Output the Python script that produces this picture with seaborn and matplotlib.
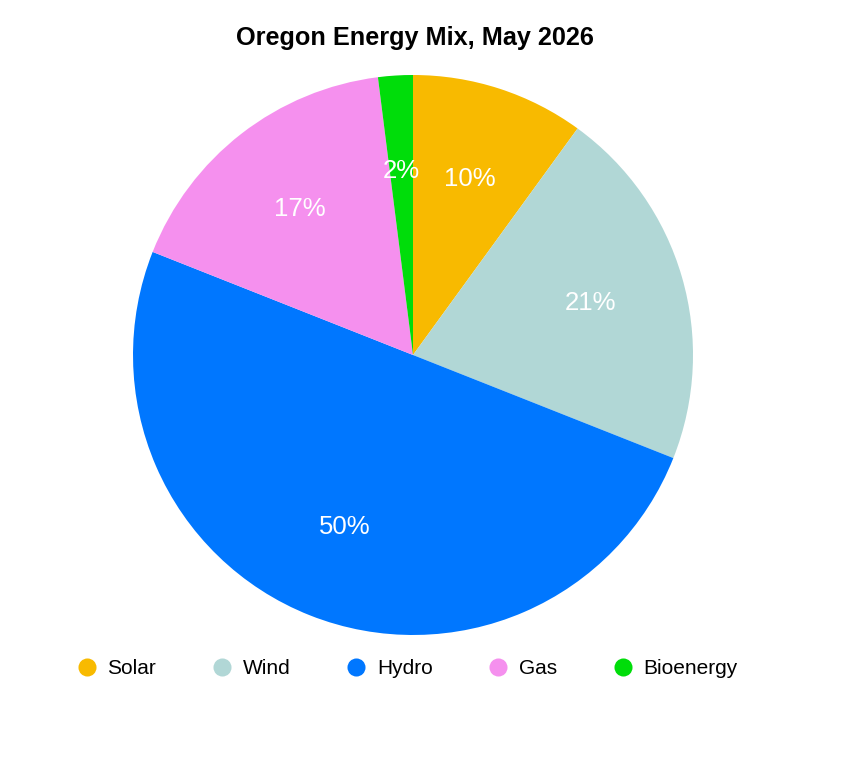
import matplotlib
matplotlib.use("Agg")
import matplotlib.pyplot as plt
from matplotlib.lines import Line2D
import seaborn as sns

# --- DATA ---
SOURCES = ["Solar", "Wind", "Hydro", "Gas", "Bioenergy"]
SHARES = [10, 21, 50, 17, 2]
COLORS = ["#F8BA00", "#B1D7D6", "#0077FF", "#F590EE", "#00DD0A"]
TITLE = "Oregon Energy Mix, May 2026"

sns.set_theme(style="white")
plt.rcParams['font.family'] = ['Liberation Sans', 'DejaVu Sans']

fig = plt.figure(figsize=(8.44, 7.66), dpi=100)
fig.patch.set_facecolor("white")

# pie centred at (413, 355) px, radius 280 px
W, H = 844, 766
cx, cy, r = 413, 355, 280
ax = fig.add_axes([(cx - r) / W, (H - cy - r) / H, 2 * r / W, 2 * r / H])

wedges, texts, autotexts = ax.pie(
    SHARES, colors=COLORS, startangle=90, counterclock=False,
    autopct='%.0f%%', pctdistance=0.66, radius=1.0,
    wedgeprops=dict(linewidth=0),
    textprops=dict(color="white", fontsize=18.5))
ax.set_xlim(-1, 1)
ax.set_ylim(-1, 1)
ax.set_aspect("equal")
ax.axis("off")

fig.text(415 / W, 1 - 38 / H, TITLE, ha="center", va="center",
         fontsize=18.2, fontweight="bold", color="black")

handles = [Line2D([0], [0], marker="o", linestyle="", markersize=13,
                  markerfacecolor=c, markeredgewidth=0) for c in COLORS]
leg = fig.legend(handles, SOURCES, loc="center", bbox_to_anchor=(407 / W, 1 - 669 / H),
                 ncol=5, frameon=False, fontsize=15, handlelength=1.0,
                 handletextpad=0.5, columnspacing=2.65)
for t in leg.get_texts():
    t.set_color("black")

fig.savefig("out.png", dpi=100, facecolor="white")
